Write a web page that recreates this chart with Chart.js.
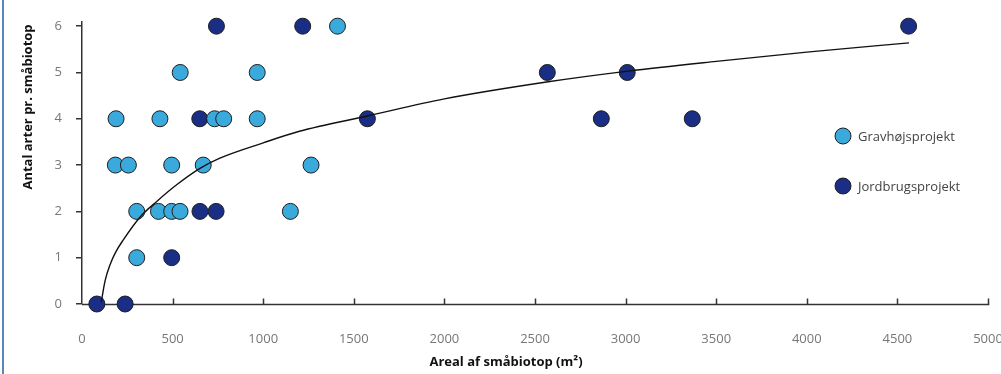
<!DOCTYPE html>
<html>
<head>
<meta charset="utf-8">
<script src="https://cdn.jsdelivr.net/npm/chart.js@4/dist/chart.umd.min.js"></script>
<style>
    html, body { margin: 0; background: #fff; }
    #wrap { position: relative; width: 1001px; height: 374px; }
    #wrap:before { content: ""; position: absolute; left: 2px; top: 0; bottom: 0; width: 2px; background: #5b87bf; }
</style>
</head>
<body>
<div id="wrap"><canvas id="artChart" width="1001" height="374"></canvas></div>
<script>
// Data
const seriesNames = ['Gravhøjsprojekt', 'Jordbrugsprojekt'];

const gravX = [188, 184, 256, 302, 302, 430, 422, 495, 495, 541, 542, 669, 732, 782, 967, 967, 1150, 1264, 1410];
const gravY = [4, 3, 3, 2, 1, 4, 2, 3, 2, 2, 5, 3, 4, 4, 5, 4, 2, 3, 6];

const jordX = [82, 238, 495, 650, 651, 740, 742, 1218, 1575, 2568, 3009, 2866, 3368, 4562];
const jordY = [0, 0, 1, 4, 2, 2, 6, 6, 4, 5, 5, 4, 4, 6];

// trendlinje
const trendX = [106, 128, 156, 183, 227, 321, 414, 524, 651, 761, 1000, 1200, 1575, 2000, 2573, 3014, 3500, 4000, 4564];
const trendY = [0.04, 0.51, 0.86, 1.1, 1.38, 1.88, 2.22, 2.58, 2.93, 3.15, 3.48, 3.73, 4.06, 4.43, 4.8, 5.03, 5.24, 5.44, 5.64];

const xTitle = 'Areal af småbiotop (m²)';
const yTitle = 'Antal arter pr. småbiotop';

const toPoints = (xs, ys) => xs.map((x, i) => ({ x: x, y: ys[i] }));

const axisColor = '#333';
const tickFont = { family: 'Open Sans', size: 13 };

// x-akse med små tick-streger indad (tegnes under punkterne)
const xAxisPlugin = {
    id: 'xAxisLine',
    beforeDatasetsDraw(chart) {
        const ctx = chart.ctx;
        const xs = chart.scales.x;
        const area = chart.chartArea;
        const yb = Math.round(area.bottom) + 0.5;
        ctx.save();
        ctx.strokeStyle = axisColor;
        ctx.lineWidth = 1.5;
        ctx.beginPath();
        ctx.moveTo(xs.getPixelForValue(xs.min), yb);
        ctx.lineTo(Math.round(xs.getPixelForValue(xs.max)) + 1.25, yb);
        ctx.stroke();
        xs.ticks.forEach(t => {
            if (t.value === 0) return;
            const px = Math.round(xs.getPixelForValue(t.value)) + 0.5;
            ctx.beginPath();
            ctx.moveTo(px, yb);
            ctx.lineTo(px, yb - 6);
            ctx.stroke();
        });
        ctx.restore();
    }
};

// aksetitler + legend
const extrasPlugin = {
    id: 'extras',
    afterDraw(chart) {
        const ctx = chart.ctx;
        ctx.save();
        ctx.fillStyle = '#111';
        ctx.font = 'bold 13px "Open Sans"';
        ctx.textAlign = 'center';
        ctx.textBaseline = 'middle';
        ctx.fillText(xTitle, 506, 362);
        ctx.save();
        ctx.translate(28, 107);
        ctx.rotate(-Math.PI / 2);
        ctx.fillText(yTitle, 0, 0);
        ctx.restore();

        // legend
        const items = [chart.data.datasets[1], chart.data.datasets[2]];
        const legendY = [136, 186];
        ctx.font = '13px "Open Sans"';
        ctx.textAlign = 'left';
        items.forEach((ds, i) => {
            ctx.beginPath();
            ctx.arc(843, legendY[i], 8, 0, Math.PI * 2);
            ctx.fillStyle = ds.backgroundColor;
            ctx.fill();
            ctx.lineWidth = 1;
            ctx.strokeStyle = ds.borderColor;
            ctx.stroke();
            ctx.fillStyle = '#444';
            ctx.fillText(ds.label, 858, legendY[i] + 1);
        });
        ctx.restore();
    }
};

new Chart(document.getElementById('artChart'), {
    type: 'scatter',
    data: {
        datasets: [{
            label: 'trend',
            data: toPoints(trendX, trendY),
            showLine: true,
            pointRadius: 0,
            borderColor: '#111',
            borderWidth: 1.4,
            cubicInterpolationMode: 'monotone',
            order: 0,
            clip: false
        }, {
            label: seriesNames[0],
            data: toPoints(gravX, gravY),
            backgroundColor: '#3aaadc',
            borderColor: '#1e1e1e',
            borderWidth: 1,
            pointRadius: 8,
            order: 1,
            clip: false
        }, {
            label: seriesNames[1],
            data: toPoints(jordX, jordY),
            backgroundColor: '#1a2e85',
            borderColor: '#1e1e1e',
            borderWidth: 1,
            pointRadius: 8,
            order: 2,
            clip: false
        }]
    },
    options: {
        responsive: false,
        animation: false,
        layout: { padding: { left: 0, right: 0, top: 22, bottom: 0 } },
        plugins: {
            legend: { display: false },
            tooltip: { enabled: false }
        },
        scales: {
            x: {
                type: 'linear',
                min: 0,
                max: 5000,
                afterFit: s => { s.height = 70; s.paddingLeft = 0; s.paddingRight = 13; },
                ticks: { stepSize: 500, color: '#777', font: tickFont, padding: 27, maxRotation: 0, callback: v => String(v) },
                grid: { drawOnChartArea: false, drawTicks: false },
                border: { display: false }
            },
            y: {
                min: 0,
                max: 6.09,
                afterFit: s => { s.width = 82; s.paddingTop = 0; s.paddingBottom = 0; },
                ticks: { stepSize: 1, includeBounds: false, color: '#777', font: tickFont, padding: 14 },
                grid: { drawOnChartArea: false, drawTicks: true, tickLength: 6, color: axisColor, lineWidth: 1.5 },
                border: { color: axisColor, width: 1.5 }
            }
        }
    },
    plugins: [xAxisPlugin, extrasPlugin]
});
</script>
</body>
</html>
